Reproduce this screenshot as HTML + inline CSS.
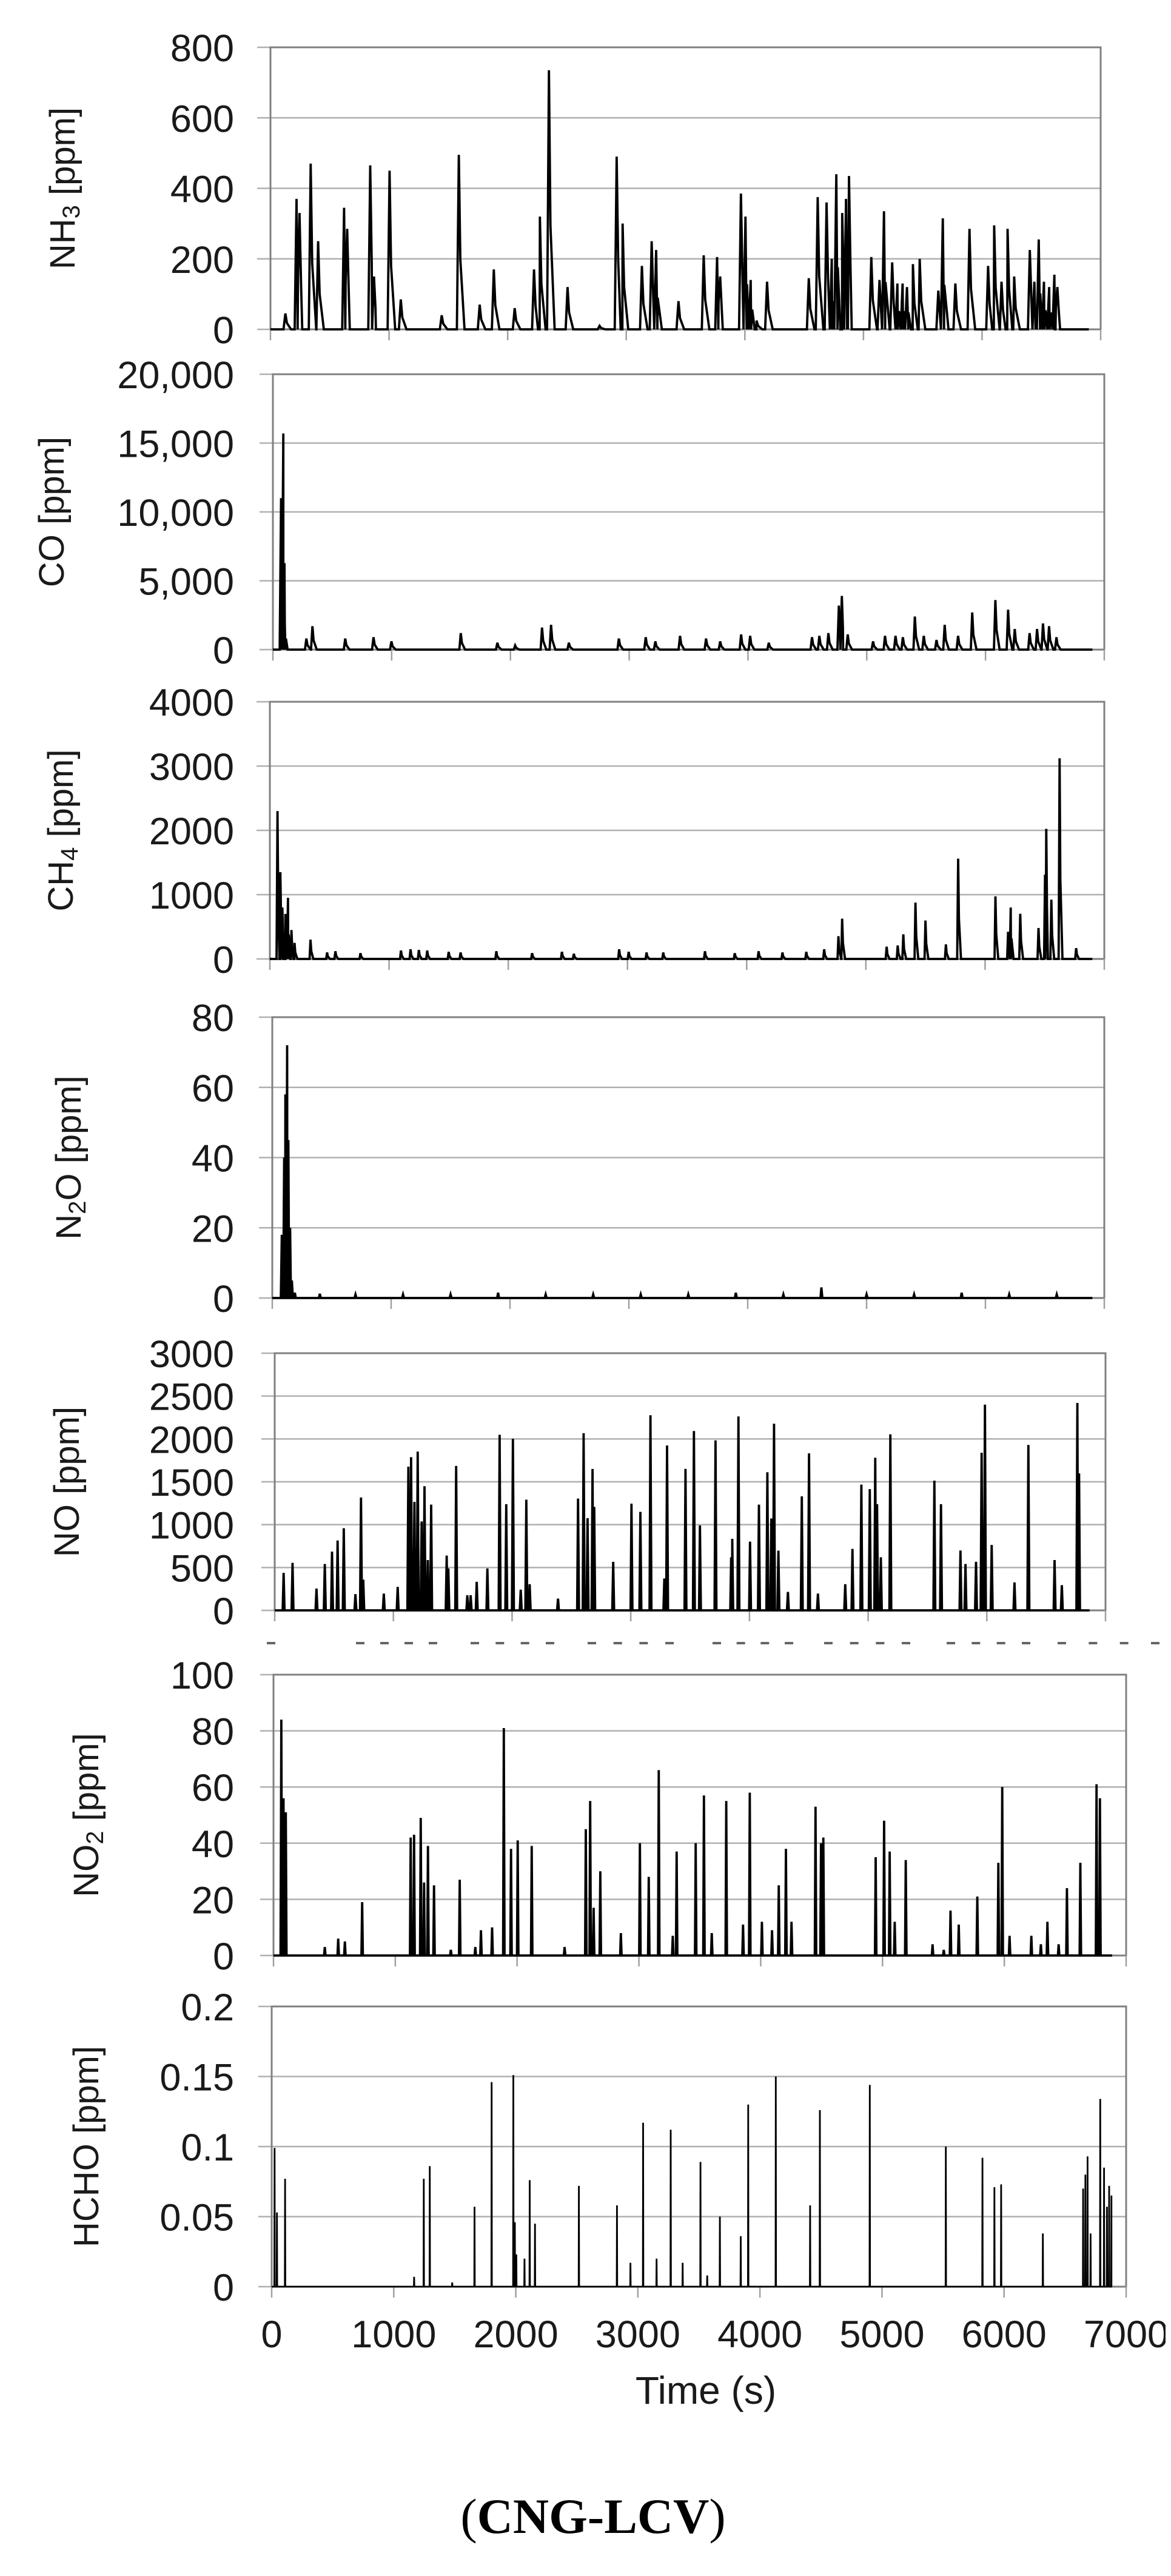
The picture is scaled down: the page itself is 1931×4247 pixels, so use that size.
<!DOCTYPE html>
<html><head><meta charset="utf-8"><title>CNG-LCV emissions</title>
<style>html,body{margin:0;padding:0;background:#fff;}svg{display:block;}</style></head>
<body>
<svg id="chart" xmlns="http://www.w3.org/2000/svg" width="1931" height="4247" viewBox="0 0 1931 4247">
<defs><clipPath id="pageclip"><rect x="0" y="0" width="1922" height="4247"/></clipPath></defs>
<rect x="0" y="0" width="1931" height="4247" fill="#fff"/>
<g id="panels" clip-path="url(#pageclip)"></g>
<g id="dash-row"></g>
<text x="1164" y="3963" text-anchor="middle" font-family="Liberation Sans, sans-serif" font-size="64" fill="#1a1a1a">Time (s)</text>
<text x="978" y="4176" text-anchor="middle" font-family="Liberation Serif, serif" font-size="82" fill="#000">(<tspan font-weight="bold">CNG-LCV</tspan>)</text>
</svg>
<script>
// ---- data ----
const xTickValues=[0,1000,2000,3000,4000,5000,6000,7000];
const xTickLabels=['0','1000','2000','3000','4000','5000','6000','7000'];

const nh3Ticks=[0,200,400,600,800];
const nh3TickLabels=['0','200','400','600','800'];
const nh3Times=[126,220,245,339,402,621,647,841,873,1004,1099,1444,1588,1764,1883,2059,2222,2272,2348,2505,2775,2919,2969,3132,3214,3252,3440,3653,3766,3792,3967,4005,4049,4099,4187,4539,4614,4689,4733,4771,4821,4853,4878,5066,5135,5173,5242,5286,5330,5367,5417,5474,5631,5669,5775,5894,6051,6102,6164,6215,6271,6403,6441,6478,6522,6566,6610,6635];
const nh3Values=[45,370,330,470,250,345,285,465,150,450,85,40,495,70,170,60,170,320,735,120,10,490,300,180,250,225,80,210,205,150,385,320,140,25,135,145,375,360,200,440,330,370,435,205,140,335,190,130,130,120,185,200,110,315,130,285,180,295,135,285,150,225,135,255,135,120,155,120];

const coTicks=[0,5000,10000,15000,20000];
const coTickLabels=['0','5,000','10,000','15,000','20,000'];
const coTimes=[69,88,100,282,333,609,847,998,1582,1890,2040,2266,2342,2492,2913,3139,3220,3428,3647,3766,3942,4018,4175,4539,4601,4677,4765,4790,4840,5053,5154,5242,5304,5405,5480,5587,5656,5769,5888,6083,6190,6246,6371,6434,6484,6535,6597];
const coValues=[11000,15700,2000,800,1700,800,900,600,1200,500,300,1600,1800,500,800,900,600,1000,800,600,1100,1000,500,900,1000,1200,3200,3900,1100,600,1000,1000,900,2400,1000,700,1800,1000,2700,3600,2900,1500,1200,1500,1900,1700,900];

const ch4Ticks=[0,1000,2000,3000,4000];
const ch4TickLabels=['0','1000','2000','3000','4000'];
const ch4Times=[64,88,105,130,152,181,207,341,480,550,760,1100,1180,1250,1320,1500,1600,1900,2200,2450,2550,2930,3010,3160,3300,3650,3900,4100,4300,4500,4650,4770,4801,5174,5267,5314,5416,5500,5671,5774,6087,6193,6215,6295,6448,6503,6513,6556,6625,6764];
const ch4Values=[2300,1350,800,700,950,450,250,300,100,120,90,130,150,140,130,110,100,120,90,110,80,150,110,100,100,120,90,120,100,110,150,354,626,191,209,383,876,597,226,1560,974,423,800,702,481,1311,2024,922,3120,168];

const n2oTicks=[0,20,40,60,80];
const n2oTickLabels=['0','20','40','60','80'];
const n2oTimes=[80,100,110,125,135,150,165,190,400,700,1100,1500,1900,2300,2700,3100,3500,3900,4300,4620,5000,5400,5800,6200,6600];
const n2oValues=[18,40,58,72,45,20,5,1.5,1.2,1,1,1,1.5,1,1,1,1,1.5,1,3,1,1,1.5,1,1];

const noTicks=[0,500,1000,1500,2000,2500,3000];
const noTickLabels=['0','500','1000','1500','2000','2500','3000'];
const noTimes=[75,150,352,422,483,530,582,680,727,746,919,1036,1126,1149,1177,1205,1238,1262,1290,1318,1449,1463,1529,1623,1651,1702,1792,1895,1951,2007,2073,2120,2148,2387,2556,2603,2636,2678,2692,2852,3006,3081,3166,3283,3306,3461,3532,3583,3714,3846,3855,3907,4005,4080,4151,4184,4207,4244,4324,4441,4502,4577,4807,4868,4943,5014,5060,5075,5107,5187,5558,5614,5778,5820,5909,5956,5984,6041,6233,6350,6571,6632,6763,6777];
const noValues=[437,554,254,541,685,815,959,189,1317,359,196,274,1676,1787,1265,1852,1037,1448,587,1233,639,489,1685,176,176,333,489,2048,1239,2002,241,1291,306,137,1304,2067,1076,1649,1207,567,1245,1148,2276,372,1924,1650,2093,991,1983,620,835,2263,802,1233,1611,1072,2178,697,215,1330,1832,196,306,717,1467,1415,1780,1239,620,2054,1513,1239,698,541,567,1839,2400,763,326,1930,587,294,2420,1598];

const no2Ticks=[0,20,40,60,80,100];
const no2TickLabels=['0','20','40','60','80','100'];
const no2Times=[64,82,101,421,531,586,728,1126,1154,1209,1236,1268,1318,1456,1529,1657,1703,1795,1891,1950,2005,2120,2390,2564,2600,2628,2683,2852,3008,3081,3163,3278,3310,3466,3534,3598,3717,3855,3910,4010,4093,4148,4207,4253,4450,4495,4514,4944,5013,5059,5100,5191,5411,5503,5558,5626,5778,5951,5983,6043,6222,6300,6354,6446,6514,6624,6757,6785];
const no2Values=[84,56,51,3,6,5,19,42,43,49,26,39,25,2,27,3,9,10,81,38,41,39,3,45,55,17,30,8,40,28,66,7,37,40,57,8,55,11,58,12,9,25,38,12,53,40,42,35,48,37,12,34,4,2,16,11,21,33,60,7,7,4,12,4,24,33,61,56];

const hchoTicks=[0,0.05,0.1,0.15,0.2];
const hchoTickLabels=['0','0.05','0.1','0.15','0.2'];
const hchoTimes=[24,43,110,1167,1246,1295,1479,1662,1802,1980,1992,2004,2071,2114,2157,2517,2829,2939,3043,3153,3269,3367,3513,3568,3672,3843,3904,4130,4411,4491,4900,5523,5823,5921,5976,6318,6648,6666,6684,6709,6788,6819,6843,6861,6880];
const hchoValues=[0.099,0.053,0.077,0.007,0.077,0.086,0.003,0.057,0.146,0.151,0.046,0.023,0.020,0.076,0.045,0.072,0.058,0.017,0.117,0.020,0.112,0.017,0.089,0.008,0.050,0.036,0.130,0.150,0.058,0.126,0.144,0.100,0.092,0.071,0.073,0.038,0.070,0.080,0.093,0.038,0.134,0.085,0.057,0.072,0.065];

// ---- layout ----
const NS='http://www.w3.org/2000/svg';
const panels=[
 {id:'nh3',top:78,zero:543,left:446,right:1815,max:800,ticks:nh3Ticks,labels:nh3TickLabels,times:nh3Times,values:nh3Values,w:16,tail:true,end:6900,tx:108,t1:'NH',sub:'3',t2:' [ppm]'},
 {id:'co',top:617,zero:1071,left:450,right:1821,max:20000,ticks:coTicks,labels:coTickLabels,times:coTimes,values:coValues,w:12,tail:true,end:6900,tx:90,t1:'CO',sub:'',t2:' [ppm]'},
 {id:'ch4',top:1157,zero:1581,left:445,right:1821,max:4000,ticks:ch4Ticks,labels:ch4TickLabels,times:ch4Times,values:ch4Values,w:8,tail:true,end:6900,tx:105,t1:'CH',sub:'4',t2:' [ppm]'},
 {id:'n2o',top:1677,zero:2140,left:449,right:1821,max:80,ticks:n2oTicks,labels:n2oTickLabels,times:n2oTimes,values:n2oValues,w:8,tail:false,end:6900,tx:118,t1:'N',sub:'2',t2:'O [ppm]'},
 {id:'no',top:2231,zero:2655,left:453,right:1823,max:3000,ticks:noTicks,labels:noTickLabels,times:noTimes,values:noValues,w:8,tail:false,end:6866,tx:115,t1:'NO',sub:'',t2:' [ppm]'},
 {id:'no2',top:2761,zero:3224,left:451,right:1857,max:100,ticks:no2Ticks,labels:no2TickLabels,times:no2Times,values:no2Values,w:6,tail:false,end:6885,tx:147,t1:'NO',sub:'2',t2:' [ppm]'},
 {id:'hcho',top:3308,zero:3770,left:448,right:1857,max:0.2,ticks:hchoTicks,labels:hchoTickLabels,times:hchoTimes,values:hchoValues,w:2,tail:false,end:6880,tx:147,t1:'HCHO',sub:'',t2:' [ppm]',xlabels:true,thin:true}
];
const root=document.getElementById('panels');
function mk(tag,attrs,parent){const e=document.createElementNS(NS,tag);for(const k in attrs)e.setAttribute(k,attrs[k]);parent.appendChild(e);return e;}

panels.forEach(p=>{
 const g=mk('g',{},root);
 
 
 const xs=t=>p.left+(t/7000)*(p.right-p.left);
 const ys=v=>p.zero-(v/p.max)*(p.zero-p.top);
 p.ticks.forEach((v,i)=>{
  const y=ys(v);
  const gl=mk('line',{x1:p.left-22,x2:p.right,y1:y,y2:y,stroke:'#b0b0b0','stroke-width':2.5},g);
  
  
  const tl=mk('text',{x:386,y:y+23,'text-anchor':'end','font-family':'Liberation Sans, sans-serif','font-size':63,fill:'#1a1a1a'},g);
  tl.textContent=p.labels[i];
  
  
 });
 const fr=mk('rect',{x:p.left,y:p.top,width:p.right-p.left,height:p.zero-p.top,fill:'none',stroke:'#808080','stroke-width':3},g);
 
 
 xTickValues.forEach((t,i)=>{
  const x=xs(t);
  const tk=mk('line',{x1:x,x2:x,y1:p.zero,y2:p.zero+18,stroke:'#a0a0a0','stroke-width':2.5},g);
  
  
  if(p.xlabels){
   const xl=mk('text',{x:x,y:p.zero+100,'text-anchor':'middle','font-family':'Liberation Sans, sans-serif','font-size':63,fill:'#1a1a1a'},g);
   xl.textContent=xTickLabels[i];
   
   
  }
 });
 const pts=[[0,0]];
 p.times.forEach((t,i)=>{
  const v=p.values[i];
  pts.push([t-p.w,0]);pts.push([t,v]);
  if(p.tail){pts.push([t+p.w*0.8,v*0.4]);pts.push([t+p.w*3,0]);}
  else pts.push([t+p.w,0]);
 });
 pts.push([p.end,0]);
 pts.sort((a,b)=>a[0]-b[0]);
 const d=pts.map((q,i)=>(i?'L':'M')+xs(Math.max(0,q[0])).toFixed(1)+' '+ys(q[1]).toFixed(1)).join(' ');
 const ln=mk('path',{d:d,fill:'none',stroke:'#000','stroke-width':p.thin?2.8:3.8,'stroke-linejoin':'miter'},g);
 
 
 const cy=(p.top+p.zero)/2;
 const tt=mk('text',{x:p.tx,y:cy,'text-anchor':'middle','dominant-baseline':'middle','font-family':'Liberation Sans, sans-serif','font-size':58,fill:'#1a1a1a',transform:'rotate(-90 '+p.tx+' '+cy+')'},g);
 
 
 const s1=mk('tspan',{},tt);s1.textContent=p.t1;
 if(p.sub){const s2=mk('tspan',{dy:12,'font-size':40},tt);s2.textContent=p.sub;const s3=mk('tspan',{dy:-12},tt);s3.textContent=p.t2;}
 else{const s3=mk('tspan',{},tt);s3.textContent=p.t2;}
});
const dr=document.getElementById('dash-row');
const groups=[[440,456],[594,714],[783,907],[976,1104],[1182,1301],[1366,1494],[1568,1692],[1751,1905]];
groups.forEach(gp=>{
 const n=gp[1]-gp[0]<40?1:4;
 for(let k=0;k<n;k++){
  const x0=n===1?gp[0]:gp[0]+k*(gp[1]-gp[0])/3-7;
  const dl=mk('line',{x1:x0,x2:x0+14,y1:2709,y2:2709,stroke:'#666','stroke-width':4},dr);
  
  
 }
});
</script>
</body></html>
